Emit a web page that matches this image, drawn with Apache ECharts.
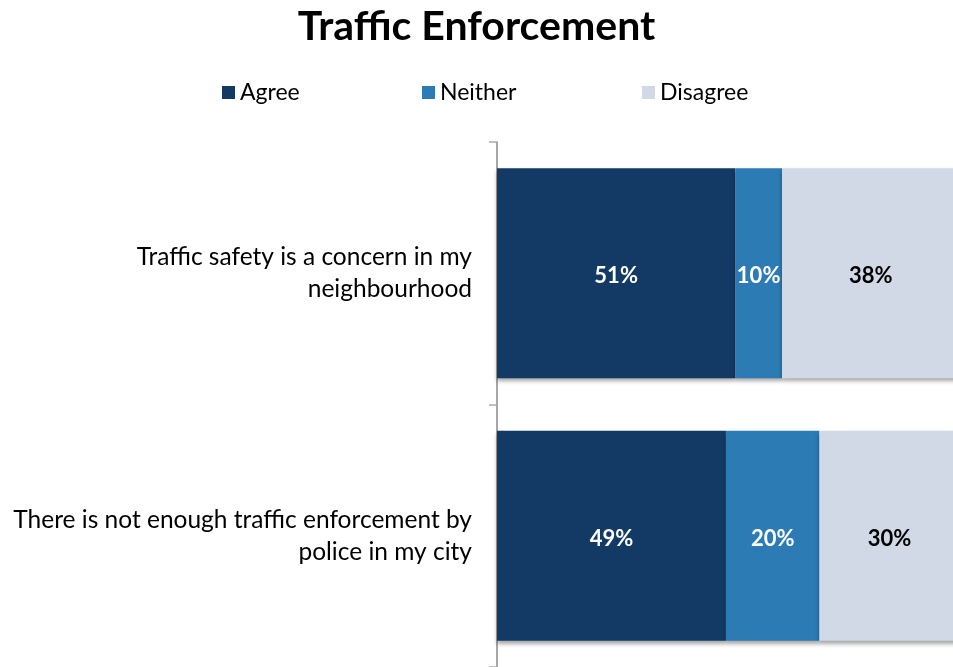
<!DOCTYPE html>
<html><head><meta charset="utf-8">
<script src="https://cdn.jsdelivr.net/npm/echarts@6/dist/echarts.min.js"></script>
<style>html,body{margin:0;padding:0;background:#fff}#c{width:953px;height:667px}</style>
</head><body><div id="c"></div>
<script>
const categories = ["Traffic safety is a concern in my\nneighbourhood", "There is not enough traffic enforcement by\npolice in my city"];
const seriesNames = ["Agree", "Neither", "Disagree"];
const agree = [51, 49];
const neither = [10, 20];
const disagree = [38, 30];
const colors = ["#133a64", "#2c7bb4", "#d1d9e7"];
const labelColors = ["#ffffff", "#ffffff", "#000000"];
const legendLefts = [217, 417, 637];
const FONT = "Lato";
const values = [agree, neither, disagree];
const chart = echarts.init(document.getElementById('c'));
chart.setOption({
  animation: false,
  title: { text: "Traffic Enforcement", left: "center", top: 1,
    textStyle: { fontFamily: FONT, fontSize: 41, fontWeight: "bold", color: "#000" } },
  legend: seriesNames.map((n, i) => ({ left: legendLefts[i], top: 76, itemWidth: 13, itemHeight: 13, icon: "rect",
    data: [n], selectedMode: false,
    textStyle: { fontFamily: FONT, fontSize: 23, color: "#000" } })),
  grid: { left: 497, right: 0, top: 142, bottom: -4, containLabel: false },
  xAxis: { type: "value", min: 0, max: 97.6, show: false },
  yAxis: { type: "category", inverse: true, data: categories,
    axisLine: { show: true, lineStyle: { color: "#888", width: 1.5 } },
    axisTick: { show: true, length: 8, lineStyle: { color: "#aaa", width: 1.5 } },
    axisLabel: { fontFamily: FONT, fontSize: 24.5, color: "#000", margin: 25, lineHeight: 32, align: "right", padding: [4, 0, 0, 0] } },
  series: seriesNames.map((n, i) => ({
    name: n, type: "bar", stack: "t", barWidth: "80%", data: values[i], clip: false,
    itemStyle: { color: colors[i], shadowColor: "rgba(0,0,0,0.35)", shadowBlur: 4, shadowOffsetY: 3 },
    label: { show: true, position: "inside", formatter: "{c}%", fontFamily: FONT, fontSize: 22, fontWeight: "bold", color: labelColors[i], offset: [0, 3] }
  }))
});
</script></body></html>
